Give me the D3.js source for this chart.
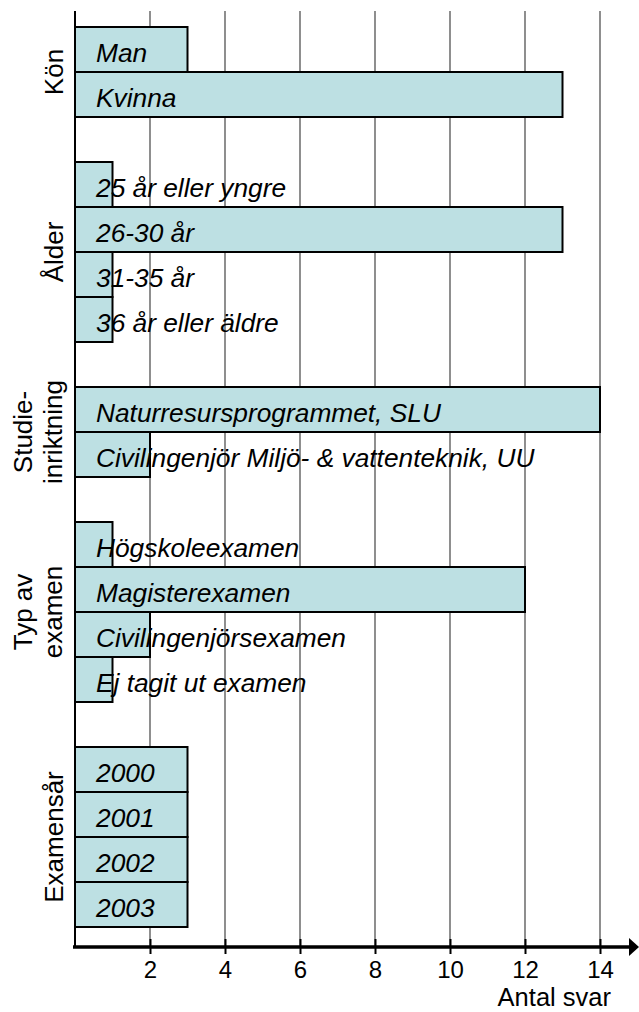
<!DOCTYPE html>
<html>
<head>
<meta charset="utf-8">
<script src="https://cdn.jsdelivr.net/npm/d3@7"></script>
<style>
  html, body { margin: 0; padding: 0; background: #fff; }
  svg { display: block; }
  text { font-family: "Liberation Sans", Arial, sans-serif; fill: #000; }
</style>
</head>
<body>
<svg id="chart" width="639" height="1012"></svg>
<script>
// ---- data ----
const groupLabels = [["Kön"], ["Ålder"], ["Studie-", "inriktning"], ["Typ av", "examen"], ["Examensår"]];
const categories = [
  ["Man", "Kvinna"],
  ["25 år eller yngre", "26-30 år", "31-35 år", "36 år eller äldre"],
  ["Naturresursprogrammet, SLU", "Civilingenjör Miljö- & vattenteknik, UU"],
  ["Högskoleexamen", "Magisterexamen", "Civilingenjörsexamen", "Ej tagit ut examen"],
  ["2000", "2001", "2002", "2003"]
];
const values = [
  [3, 13],
  [1, 13, 1, 1],
  [14, 2],
  [1, 12, 2, 1],
  [3, 3, 3, 3]
];
const tickValues = [2, 4, 6, 8, 10, 12, 14];
const axisTitle = "Antal svar";

// ---- layout ----
const W = 639, H = 1012;
const x0 = 75, x14 = 600;
const plotTop = 11, axisY = 947;
const bandTop = 27, bandBottom = 927;

const svg = d3.select("#chart");

// build slot list (with an empty slot between groups)
const slots = [];
const rows = [];
categories.forEach((cats, gi) => {
  cats.forEach((c, ci) => {
    const key = gi + "|" + c;
    slots.push(key);
    rows.push({ key, label: c, value: values[gi][ci], group: gi });
  });
  if (gi < categories.length - 1) slots.push("gap" + gi);
});

const x = d3.scaleLinear().domain([0, 14]).range([x0, x14]);
const y = d3.scaleBand().domain(slots).range([bandTop, bandBottom]).padding(0);

// gridlines
svg.append("g")
  .selectAll("line")
  .data(tickValues)
  .join("line")
  .attr("x1", d => x(d)).attr("x2", d => x(d))
  .attr("y1", plotTop).attr("y2", axisY)
  .attr("stroke", "#444").attr("stroke-width", 1.2);

// bars
svg.append("g")
  .selectAll("rect")
  .data(rows)
  .join("rect")
  .attr("x", x(0))
  .attr("y", d => y(d.key))
  .attr("width", d => x(d.value) - x(0))
  .attr("height", y.bandwidth())
  .attr("fill", "#bde0e3")
  .attr("stroke", "#000")
  .attr("stroke-width", 2);

// bar labels
svg.append("g")
  .selectAll("text")
  .data(rows)
  .join("text")
  .attr("x", x(0) + 21)
  .attr("y", d => y(d.key) + y.bandwidth() / 2 + 12)
  .attr("font-size", 26.3)
  .attr("font-style", "italic")
  .text(d => d.label);

// vertical axis line
svg.append("line")
  .attr("x1", x(0)).attr("x2", x(0))
  .attr("y1", plotTop).attr("y2", axisY)
  .attr("stroke", "#000").attr("stroke-width", 2);

// group labels (rotated)
groupLabels.forEach((lines, gi) => {
  const keys = categories[gi].map(c => gi + "|" + c);
  const top = y(keys[0]);
  const bottom = y(keys[keys.length - 1]) + y.bandwidth();
  const cy = (top + bottom) / 2;
  const baseX = lines.length === 1 ? 63 : 32;
  const t = svg.append("text")
    .attr("transform", `translate(${baseX},${cy}) rotate(-90)`)
    .attr("text-anchor", "middle")
    .attr("font-size", 26);
  lines.forEach((ln, li) => {
    t.append("tspan").attr("x", 0).attr("y", li * 30).text(ln);
  });
});

// x axis
const xAxis = d3.axisBottom(x).tickValues(tickValues).tickSize(0).tickPadding(0).tickFormat(d3.format("d"));
const gx = svg.append("g").attr("transform", `translate(0,${axisY})`).call(xAxis);
gx.select(".domain").remove();
gx.selectAll("text")
  .attr("font-size", 24)
  .attr("font-family", "Liberation Sans, Arial, sans-serif")
  .attr("fill", "#000")
  .attr("dy", 0)
  .attr("y", 31);
// tick marks crossing the axis
gx.selectAll(".tick").append("line")
  .attr("x1", 0).attr("x2", 0)
  .attr("y1", -8).attr("y2", 7)
  .attr("stroke", "#000").attr("stroke-width", 2);

// axis line with arrow
svg.append("line")
  .attr("x1", x(0) - 2).attr("x2", 632)
  .attr("y1", axisY).attr("y2", axisY)
  .attr("stroke", "#000").attr("stroke-width", 3.5);
svg.append("path")
  .attr("d", `M${629},${axisY - 9} L${639},${axisY} L${629},${axisY + 9} Z`)
  .attr("fill", "#000");

// axis title
svg.append("text")
  .attr("x", 611).attr("y", 1006)
  .attr("text-anchor", "end")
  .attr("font-size", 25.5)
  .text(axisTitle);
</script>
</body>
</html>
